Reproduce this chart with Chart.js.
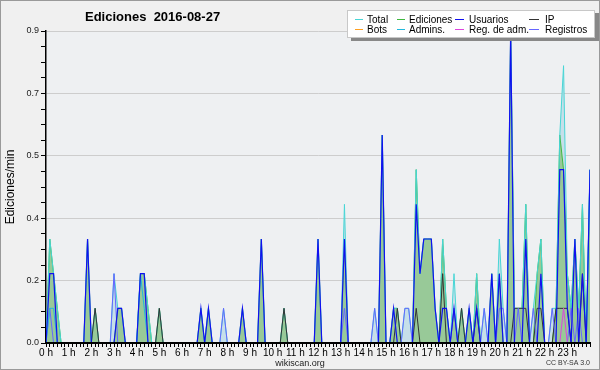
<!DOCTYPE html>
<html>
<head>
<meta charset="utf-8">
<script src="https://cdn.jsdelivr.net/npm/chart.js@4.4.1/dist/chart.umd.min.js"></script>
<style>
  html, body { margin: 0; padding: 0; background: #f0f0f0; }
  #wrap { width: 600px; height: 370px; }
</style>
</head>
<body>
<div id="wrap"><canvas id="chart" width="600" height="370"></canvas></div>
<script>
/* Ediciones 2016-08-27 — ediciones por minuto, tramos de 10 minutos */

const FONT = "'Liberation Sans', Arial, sans-serif";

const hourLabels = ['0 h', '1 h', '2 h', '3 h', '4 h', '5 h', '6 h', '7 h', '8 h', '9 h', '10 h', '11 h',
  '12 h', '13 h', '14 h', '15 h', '16 h', '17 h', '18 h', '19 h', '20 h', '21 h', '22 h', '23 h'];
const yTicks = [0, 0.045, 0.09, 0.135, 0.18, 0.225, 0.27, 0.315, 0.36, 0.405, 0.45,
  0.495, 0.54, 0.585, 0.63, 0.675, 0.72, 0.765, 0.81, 0.855, 0.9];
const yTickLabels = ['0.0', '0.2', '0.4', '0.5', '0.7', '0.9'];

// slot index = minutos / 10 desde las 0 h
const slots = Array.from({ length: 145 }, (_, i) => i);

const seriesNames = ['Total', 'Ediciones', 'Usuarios', 'IP', 'Bots', 'Admins.', 'Reg. de adm.', 'Registros'];

const total = [
  0, 0.3, 0.2, 0.1, 0, 0, 0, 0, 0, 0, 0, 0.3,
  0, 0.1, 0, 0, 0, 0, 0.2, 0.1, 0.1, 0, 0, 0,
  0, 0.2, 0.2, 0.1, 0, 0, 0.1, 0, 0, 0, 0, 0,
  0, 0, 0, 0, 0, 0.1, 0, 0.1, 0, 0, 0, 0.1,
  0, 0, 0, 0, 0.1, 0, 0, 0, 0, 0.3, 0, 0,
  0, 0, 0, 0.1, 0, 0, 0, 0, 0, 0, 0, 0,
  0.3, 0, 0, 0, 0, 0, 0, 0.4, 0, 0, 0, 0,
  0, 0, 0, 0.1, 0, 0.6, 0, 0, 0.1, 0.1, 0, 0.1,
  0.1, 0, 0.5, 0.2, 0.3, 0.3, 0.3, 0.1, 0, 0.3, 0.1, 0,
  0.2, 0, 0.1, 0, 0.1, 0, 0.2, 0, 0.1, 0, 0.2, 0,
  0.3, 0.1, 0, 0.9, 0.1, 0.1, 0.1, 0.4, 0, 0.1, 0.2, 0.3,
  0, 0, 0.1, 0.1, 0.6, 0.8, 0.2, 0.1, 0.3, 0.1, 0.4, 0,
  0.5
];
const ediciones = [
  0, 0.3, 0.2, 0.1, 0, 0, 0, 0, 0, 0, 0, 0.3,
  0, 0.1, 0, 0, 0, 0, 0, 0.1, 0.1, 0, 0, 0,
  0, 0.2, 0.2, 0.1, 0, 0, 0.1, 0, 0, 0, 0, 0,
  0, 0, 0, 0, 0, 0.1, 0, 0.1, 0, 0, 0, 0,
  0, 0, 0, 0, 0.1, 0, 0, 0, 0, 0.3, 0, 0,
  0, 0, 0, 0.1, 0, 0, 0, 0, 0, 0, 0, 0,
  0.3, 0, 0, 0, 0, 0, 0, 0.3, 0, 0, 0, 0,
  0, 0, 0, 0, 0, 0.6, 0, 0, 0.1, 0.1, 0, 0,
  0, 0, 0.5, 0.2, 0.3, 0.3, 0.3, 0.1, 0, 0.3, 0.1, 0,
  0.1, 0, 0.1, 0, 0.1, 0, 0.2, 0, 0, 0, 0.2, 0,
  0.2, 0, 0, 0.9, 0.1, 0.1, 0.1, 0.4, 0, 0, 0.2, 0.3,
  0, 0, 0, 0.1, 0.6, 0.5, 0.2, 0.1, 0.3, 0.1, 0.4, 0,
  0.5
];
const usuarios = [
  0, 0.2, 0.2, 0, 0, 0, 0, 0, 0, 0, 0, 0.3,
  0, 0, 0, 0, 0, 0, 0, 0.1, 0.1, 0, 0, 0,
  0, 0.2, 0.2, 0, 0, 0, 0, 0, 0, 0, 0, 0,
  0, 0, 0, 0, 0, 0.1, 0, 0.1, 0, 0, 0, 0,
  0, 0, 0, 0, 0.1, 0, 0, 0, 0, 0.3, 0, 0,
  0, 0, 0, 0, 0, 0, 0, 0, 0, 0, 0, 0,
  0.3, 0, 0, 0, 0, 0, 0, 0.3, 0, 0, 0, 0,
  0, 0, 0, 0, 0, 0.6, 0, 0, 0.1, 0, 0, 0,
  0, 0, 0.4, 0.2, 0.3, 0.3, 0.3, 0.1, 0, 0.1, 0.1, 0,
  0.1, 0, 0, 0, 0.1, 0, 0.1, 0, 0, 0, 0.2, 0,
  0.2, 0, 0, 0.9, 0, 0, 0, 0.3, 0, 0, 0, 0.2,
  0, 0, 0, 0, 0.5, 0.5, 0.1, 0, 0.3, 0, 0.2, 0,
  0.5
];
const ip = [
  0, 0, 0, 0, 0, 0, 0, 0, 0, 0, 0, 0,
  0, 0.1, 0, 0, 0, 0, 0, 0, 0, 0, 0, 0,
  0, 0, 0, 0, 0, 0, 0.1, 0, 0, 0, 0, 0,
  0, 0, 0, 0, 0, 0, 0, 0, 0, 0, 0, 0,
  0, 0, 0, 0, 0, 0, 0, 0, 0, 0, 0, 0,
  0, 0, 0, 0.1, 0, 0, 0, 0, 0, 0, 0, 0,
  0, 0, 0, 0, 0, 0, 0, 0, 0, 0, 0, 0,
  0, 0, 0, 0, 0, 0, 0, 0, 0, 0.1, 0, 0,
  0, 0, 0.1, 0, 0, 0, 0, 0, 0, 0.2, 0, 0,
  0, 0, 0.1, 0, 0, 0, 0.1, 0, 0, 0, 0, 0,
  0, 0, 0, 0, 0.1, 0.1, 0.1, 0.1, 0, 0, 0.1, 0.1,
  0, 0, 0, 0.1, 0.1, 0.1, 0.1, 0, 0, 0, 0.2, 0,
  0
];
const bots = [
  0, 0, 0, 0, 0, 0, 0, 0, 0, 0, 0, 0,
  0, 0, 0, 0, 0, 0, 0, 0, 0, 0, 0, 0,
  0, 0, 0, 0, 0, 0, 0, 0, 0, 0, 0, 0,
  0, 0, 0, 0, 0, 0, 0, 0, 0, 0, 0, 0,
  0, 0, 0, 0, 0, 0, 0, 0, 0, 0, 0, 0,
  0, 0, 0, 0, 0, 0, 0, 0, 0, 0, 0, 0,
  0, 0, 0, 0, 0, 0, 0, 0, 0, 0, 0, 0,
  0, 0, 0, 0, 0, 0, 0, 0, 0, 0, 0, 0,
  0, 0, 0, 0, 0, 0, 0, 0, 0, 0, 0, 0,
  0, 0, 0, 0, 0, 0, 0, 0, 0, 0, 0, 0,
  0, 0, 0, 0, 0, 0, 0, 0, 0, 0, 0, 0,
  0, 0, 0, 0, 0, 0, 0, 0, 0, 0, 0, 0,
  0
];
const admins = [
  0, 0.1, 0.1, 0, 0, 0, 0, 0, 0, 0, 0, 0,
  0, 0, 0, 0, 0, 0, 0, 0, 0, 0, 0, 0,
  0, 0.2, 0.1, 0, 0, 0, 0, 0, 0, 0, 0, 0,
  0, 0, 0, 0, 0, 0, 0, 0, 0, 0, 0, 0,
  0, 0, 0, 0, 0, 0, 0, 0, 0, 0, 0, 0,
  0, 0, 0, 0, 0, 0, 0, 0, 0, 0, 0, 0,
  0, 0, 0, 0, 0, 0, 0, 0, 0, 0, 0, 0,
  0, 0, 0, 0, 0, 0, 0, 0, 0, 0, 0, 0,
  0, 0, 0, 0, 0, 0, 0, 0, 0, 0, 0, 0,
  0, 0, 0, 0, 0, 0, 0, 0, 0, 0, 0, 0,
  0, 0, 0, 0, 0, 0, 0, 0, 0, 0, 0, 0,
  0, 0, 0, 0, 0, 0, 0, 0, 0, 0, 0, 0,
  0.5
];
const regAdm = [
  0, 0, 0, 0, 0, 0, 0, 0, 0, 0, 0, 0,
  0, 0, 0, 0, 0, 0, 0, 0, 0, 0, 0, 0,
  0, 0, 0, 0, 0, 0, 0, 0, 0, 0, 0, 0,
  0, 0, 0, 0, 0, 0, 0, 0, 0, 0, 0, 0,
  0, 0, 0, 0, 0, 0, 0, 0, 0, 0, 0, 0,
  0, 0, 0, 0, 0, 0, 0, 0, 0, 0, 0, 0,
  0, 0, 0, 0, 0, 0, 0, 0, 0, 0, 0, 0,
  0, 0, 0, 0, 0, 0, 0, 0, 0, 0, 0, 0,
  0, 0, 0, 0, 0, 0, 0, 0, 0, 0, 0, 0,
  0, 0, 0, 0, 0, 0, 0, 0, 0, 0, 0, 0,
  0, 0, 0, 0, 0, 0, 0, 0, 0, 0, 0, 0,
  0, 0, 0, 0, 0, 0.1, 0, 0, 0, 0, 0, 0,
  0
];
const registros = [
  0, 0.1, 0, 0, 0, 0, 0, 0, 0, 0, 0, 0,
  0, 0, 0, 0, 0, 0, 0.2, 0, 0, 0, 0, 0,
  0, 0, 0, 0, 0, 0, 0, 0, 0, 0, 0, 0,
  0, 0, 0, 0, 0, 0, 0, 0, 0, 0, 0, 0.1,
  0, 0, 0, 0, 0, 0, 0, 0, 0, 0, 0, 0,
  0, 0, 0, 0, 0, 0, 0, 0, 0, 0, 0, 0,
  0, 0, 0, 0, 0, 0, 0, 0.1, 0, 0, 0, 0,
  0, 0, 0, 0.1, 0, 0, 0, 0, 0, 0, 0, 0.1,
  0.1, 0, 0, 0, 0, 0, 0, 0, 0, 0, 0, 0,
  0.1, 0, 0, 0, 0, 0, 0, 0, 0.1, 0, 0, 0,
  0.1, 0.1, 0, 0, 0, 0.1, 0, 0, 0, 0.1, 0, 0,
  0, 0, 0.1, 0, 0, 0, 0, 0.1, 0, 0.1, 0, 0,
  0
];

const seriesData = [total, ediciones, usuarios, ip, bots, admins, regAdm, registros];
const seriesColors = ['#48d6d6', '#3fb83f', '#1010f0', '#333333', '#ffa020', '#22b8dc', '#dd44dd', '#6666ff'];
const seriesWidths = [1, 1, 1.2, 1, 1, 1, 1, 1];
const seriesOrder = [7, 8, 1, 6, 5, 2, 3, 4];   // mayor = se dibuja antes

/* fondo, marco */
const backdrop = {
  id: 'backdrop',
  beforeDraw(chart) {
    const { ctx, chartArea: a } = chart;
    ctx.save();
    ctx.fillStyle = '#f0f0f0';
    ctx.fillRect(0, 0, chart.width, chart.height);
    ctx.fillStyle = '#eef0f2';
    ctx.fillRect(a.left, a.top, a.right - a.left, a.bottom - a.top);
    ctx.strokeStyle = '#9a9a9a';
    ctx.lineWidth = 1;
    ctx.strokeRect(0.5, 0.5, chart.width - 1, chart.height - 1);
    ctx.restore();
  }
};

/* título, leyenda, pie */
const overlay = {
  id: 'overlay',
  afterDraw(chart) {
    const { ctx } = chart;
    ctx.save();
    ctx.fillStyle = '#000';
    ctx.textBaseline = 'alphabetic';
    ctx.textAlign = 'left';
    ctx.font = `bold 13px ${FONT}`;
    ctx.fillText('Ediciones  2016-08-27', 85, 21);

    // leyenda
    ctx.fillStyle = '#888';
    ctx.fillRect(351, 13, 248, 28);
    ctx.fillStyle = '#fff';
    ctx.fillRect(347, 10, 248, 28);
    ctx.strokeStyle = '#c8c8c8';
    ctx.strokeRect(347.5, 10.5, 247, 27);
    const cols = [[355, 8, 367], [397, 8, 409], [455, 9, 469], [529, 10, 545]];
    ctx.font = `10px ${FONT}`;
    ctx.textBaseline = 'middle';
    chart.data.datasets.forEach((ds, k) => {
      const [lx, len, tx] = cols[k % 4];
      const y = k < 4 ? 19.5 : 29.5;
      ctx.strokeStyle = ds.borderColor;
      ctx.lineWidth = 1;
      ctx.beginPath();
      ctx.moveTo(lx, y);
      ctx.lineTo(lx + len, y);
      ctx.stroke();
      ctx.fillStyle = '#000';
      ctx.fillText(ds.label, tx, y + 0.5);
    });

    ctx.textBaseline = 'alphabetic';
    ctx.textAlign = 'center';
    ctx.fillStyle = '#222';
    ctx.font = `9px ${FONT}`;
    ctx.fillText('wikiscan.org', 300, 366);
    ctx.textAlign = 'right';
    ctx.fillStyle = '#333';
    ctx.font = `7px ${FONT}`;
    ctx.fillText('CC BY-SA 3.0', 590, 365);
    ctx.restore();
  }
};

const datasets = seriesNames.map((name, k) => ({
  label: name,
  data: seriesData[k],
  borderColor: seriesColors[k],
  borderWidth: seriesWidths[k],
  order: seriesOrder[k],
  fill: false,
  pointRadius: 0,
  tension: 0,
}));
datasets[0].fill = { target: 1, above: '#c6dfe9', below: 'rgba(0,0,0,0)' };
datasets[1].fill = 'origin';
datasets[1].backgroundColor = '#98c998';

new Chart(document.getElementById('chart'), {
  type: 'line',
  data: { labels: slots, datasets },
  options: {
    responsive: false,
    animation: false,
    devicePixelRatio: 1,
    layout: { padding: { top: 31, right: 10, left: 0, bottom: 0 } },
    plugins: {
      legend: { display: false },
      tooltip: { enabled: false },
      filler: { drawTime: 'beforeDatasetsDraw' },
    },
    scales: {
      x: {
        type: 'linear',
        min: 0,
        max: 144,
        afterBuildTicks: s => { s.ticks = slots.map(v => ({ value: v })); },
        afterFit: s => { s.height = 27; },
        border: { color: '#000', width: 2, z: 1 },
        grid: { drawOnChartArea: false, tickLength: 4, tickColor: '#000', tickWidth: 1, z: 1 },
        ticks: {
          autoSkip: false,
          maxRotation: 0,
          padding: 0,
          color: '#000',
          font: { family: FONT, size: 10 },
          callback: v => (v % 6 === 0 && v < 144) ? hourLabels[v / 6] : '',
        },
      },
      y: {
        min: 0,
        max: 0.9,
        afterBuildTicks: s => { s.ticks = yTicks.map(v => ({ value: v })); },
        afterFit: s => { s.width = 46; },
        border: { color: '#000', width: 1.5 },
        grid: {
          color: c => c.index % 4 === 0 ? '#cdcdcd' : 'rgba(0,0,0,0)',
          tickColor: '#000',
          tickLength: 5,
          lineWidth: 1,
        },
        ticks: {
          padding: 2,
          color: '#222',
          font: { family: FONT, size: 9 },
          callback: (v, i) => i % 4 === 0 ? yTickLabels[i / 4] : '',
        },
        title: {
          display: true,
          text: 'Ediciones/min',
          color: '#000',
          font: { family: FONT, size: 12 },
          padding: { top: 3, bottom: 0 },
        },
      },
    },
  },
  plugins: [backdrop, overlay],
});
</script>
</body>
</html>
